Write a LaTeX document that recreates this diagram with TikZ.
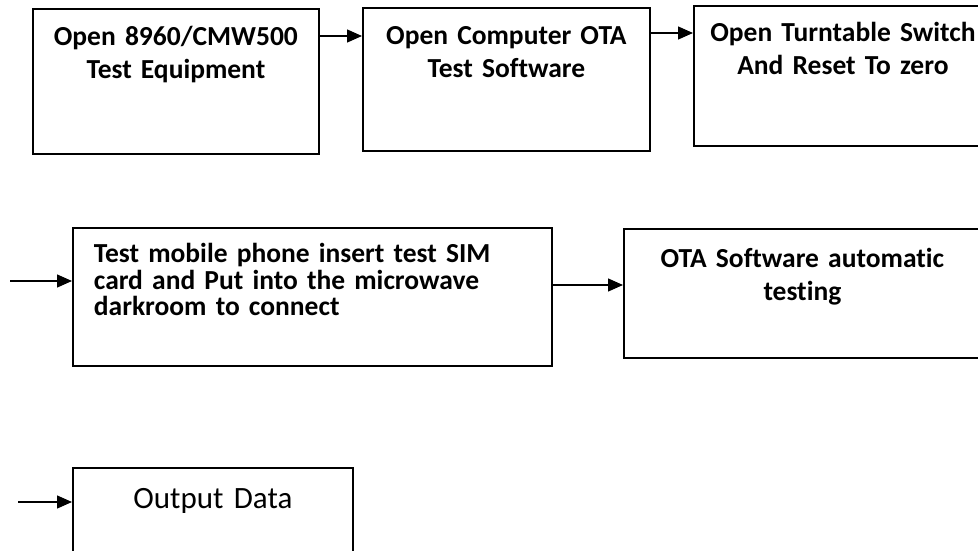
\documentclass[tikz,border=0pt]{standalone}
\usepackage{fontspec}
\setmainfont{Carlito}[Ligatures = NoCommon, WordSpace = 0.85]
\usetikzlibrary{arrows.meta}

\begin{document}
\begin{tikzpicture}
			[
				x = 1pt, y = -1pt,
				task/.style = {draw, line width = 1.8pt, anchor = north west, inner sep = 0pt, align = center, font = \bfseries\fontsize{27.5}{33}\selectfont},
				arrow/.style = {line width = 1.3pt, -{Triangle[length = 15pt, width = 13pt]}}
			]
			\useasboundingbox (0,0) rectangle (978,551);
			\clip (0,0) rectangle (978,551);
			\node[task, text width = 286pt, text height = 37pt, text depth = 108pt] (equipment) at (32,8)
				{Open 8960/CMW500\\Test Equipment};
			\node[task, text width = 287pt, text height = 37pt, text depth = 106pt] (software) at (362,7)
				{Open Computer OTA\\Test Software};
			\node[task, text width = 298pt, text height = 36pt, text depth = 104pt] (turntable) at (693,5)
				{Open Turntable Switch\\And Reset To zero};
			\node[task, align = left, inner xsep = 21pt, text width = 437pt, text height = 35pt, text depth = 103pt,
				font = \bfseries\fontsize{27.5}{26.5}\selectfont] (phone) at (72,227)
				{Test mobile phone insert test SIM\\card and Put into the microwave\\darkroom to connect};
			\node[task, text width = 357pt, text height = 39pt, text depth = 90pt] (testing) at (623,228)
				{OTA Software automatic\\testing};
			\node[task, text width = 280pt, text height = 41pt, text depth = 52pt,
				font = \fontsize{31}{37}\selectfont] (output) at (72,467)
				{Output Data};
			\coordinate (phonein) at (10,281);
			\coordinate (outputin) at (18,502);
			\draw[arrow] ([yshift = -28pt]equipment.north east) -- ([yshift = -28pt]equipment.north east -| software.west);
			\draw[arrow] ([yshift = -26pt]software.north east) -- ([yshift = -26pt]software.north east -| turntable.west);
			\draw[arrow] (phonein) -- (phonein -| phone.west);
			\draw[arrow] ([yshift = -58pt]phone.north east) -- ([yshift = -58pt]phone.north east -| testing.west);
			\draw[arrow] (outputin) -- (outputin -| output.west);
\end{tikzpicture}
\end{document}
